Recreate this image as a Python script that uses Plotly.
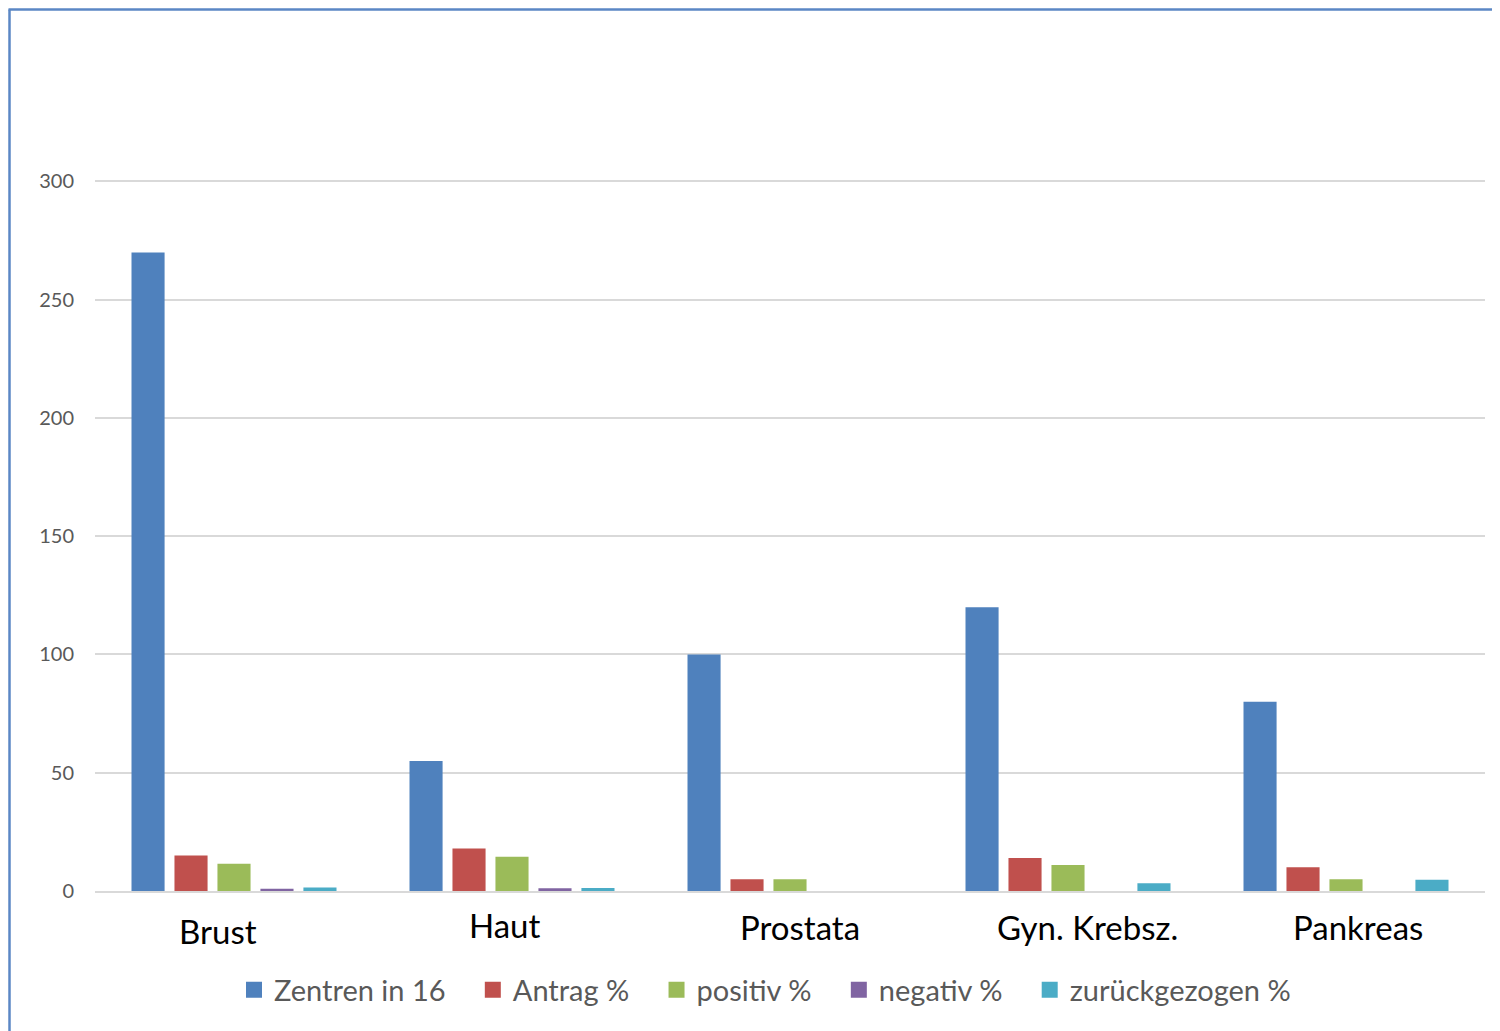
import plotly.graph_objects as go

categories = ["Brust", "Haut", "Prostata", "Gyn. Krebsz.", "Pankreas"]
series_names = ["Zentren in 16", "Antrag %", "positiv %", "negativ %", "zurückgezogen %"]
zentren = [270, 55, 100, 120, 80]
antrag = [15, 18, 5, 14, 10]
positiv = [11.5, 14.5, 5, 11, 5]
negativ = [1, 1.2, 0, 0, 0]
zurueck = [1.5, 1.3, 0, 3.3, 4.8]
y_ticks = [0, 50, 100, 150, 200, 250, 300]

colors = ["#4F81BD", "#C0504D", "#9BBB59", "#8064A2", "#4BACC6"]
values = [zentren, antrag, positiv, negativ, zurueck]

fig = go.Figure()
for name, vals, col in zip(series_names, values, colors):
    fig.add_trace(go.Bar(x=categories, y=vals, name=name, marker_color=col,
                         marker_line_width=0, showlegend=False, hoverinfo="skip"))
pad = "\u00a0" * 3
for i, (name, col) in enumerate(zip(series_names, colors)):
    label = name + (pad if i < len(series_names) - 1 else "")
    fig.add_trace(go.Scatter(x=[None], y=[None], mode="markers", name=label,
                             marker=dict(symbol="square", size=16, color=col)))

# page is offset by the 8px body margin; work in figure pixel coords
OFF = 8
W, H = 1500 - OFF, 1031 - OFF
L, R, T, B = 95 - OFF, 15, 180 - OFF, 140
pw, ph = W - L - R, H - T - B
def px(x):
    return (x - OFF - L) / pw
def py(y):
    return (H - B - (y - OFF)) / ph

# category labels (placed like the original text boxes)
label_xshift = [-16, -8, 10, 19, 12]
label_yshift = [-40, -34, -36, -36, -36]
for c, dx, dy in zip(categories, label_xshift, label_yshift):
    fig.add_annotation(x=c, y=0, xref="x", yref="y", text=c, showarrow=False,
                       xshift=dx, yshift=dy, yanchor="middle",
                       font=dict(family="Lato", size=33, color="#000000"))

frame_col = "#5B87C5"
fig.add_shape(type="line", xref="paper", yref="paper", x0=px(8.5), x1=px(1500),
              y0=py(9.5), y1=py(9.5), line=dict(color=frame_col, width=2.5))
fig.add_shape(type="line", xref="paper", yref="paper", x0=px(9.5), x1=px(9.5),
              y0=py(9.5), y1=py(1031), line=dict(color=frame_col, width=2.5))

fig.update_layout(
    width=W, height=H,
    margin=dict(l=L, r=R, t=T, b=B),
    paper_bgcolor="white", plot_bgcolor="white",
    barmode="group", bargap=0.227, bargroupgap=0.23,
    font=dict(family="Lato", color="#595959"),
    xaxis=dict(showticklabels=False, showgrid=False, zeroline=False,
               showline=True, linecolor="#D9D9D9", linewidth=2, ticks=""),
    yaxis=dict(range=[0, 300.6], tickvals=y_ticks, showgrid=True, gridcolor="#D9D9D9",
               gridwidth=1.5, zeroline=False, showline=False, ticks="",
               tickfont=dict(size=20, color="#595959"), ticklabelstandoff=20),
    legend=dict(orientation="h", x=px(765), xanchor="center", y=py(990), yanchor="middle",
                font=dict(size=29, color="#595959"), itemwidth=30, tracegroupgap=0),
    showlegend=True,
)

fig.write_html("out.html")
